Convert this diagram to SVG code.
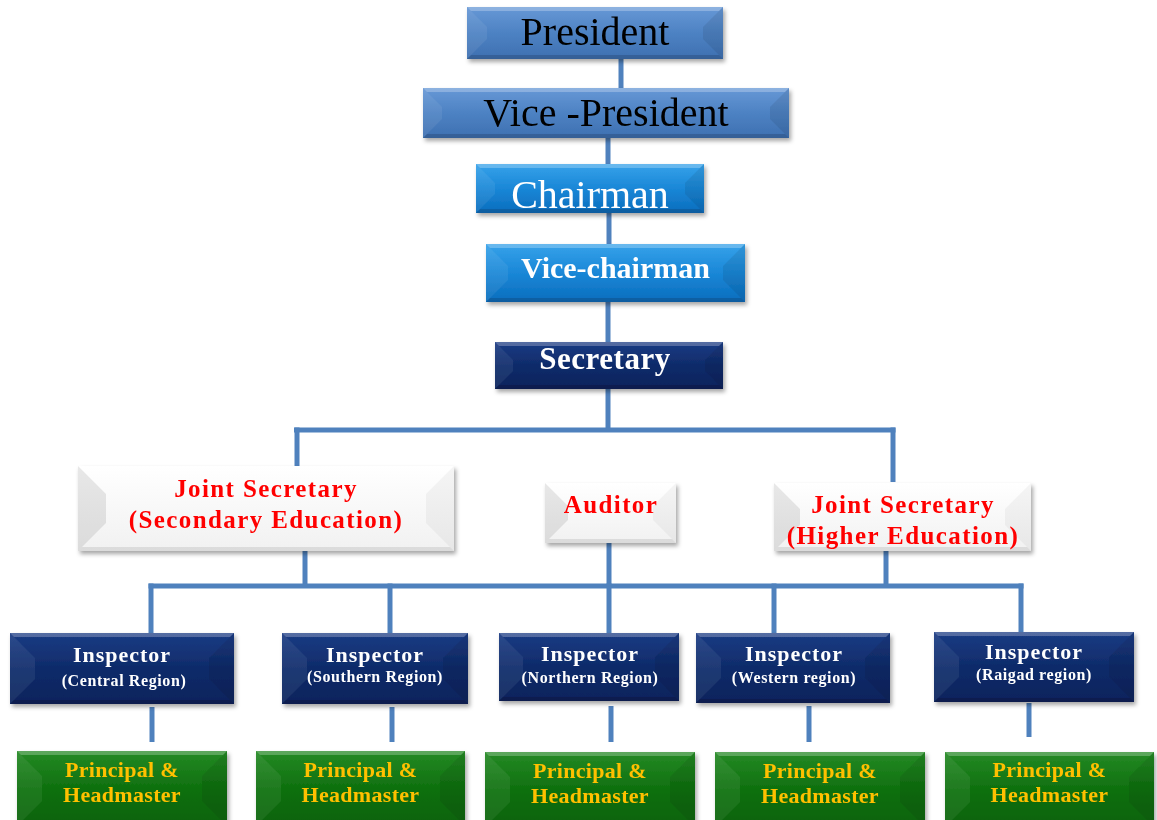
<svg xmlns="http://www.w3.org/2000/svg" width="1157" height="820" viewBox="0 0 1157 820">
<defs>
<linearGradient id="gSteel" x1="0" y1="0" x2="0" y2="1"><stop offset="0" stop-color="#6798d6"/><stop offset="0.5" stop-color="#4d82c3"/><stop offset="1" stop-color="#3e70b1"/></linearGradient>
<linearGradient id="gBright" x1="0" y1="0" x2="0" y2="1"><stop offset="0" stop-color="#36a2ea"/><stop offset="0.5" stop-color="#1a87d7"/><stop offset="1" stop-color="#0a6dbd"/></linearGradient>
<linearGradient id="gNavy" x1="0" y1="0" x2="0" y2="1"><stop offset="0" stop-color="#1b3c84"/><stop offset="0.5" stop-color="#0f2b6a"/><stop offset="1" stop-color="#0a235c"/></linearGradient>
<linearGradient id="gWhite" x1="0" y1="0" x2="0" y2="1"><stop offset="0" stop-color="#ffffff"/><stop offset="1" stop-color="#f1f1f1"/></linearGradient>
<linearGradient id="gGreen" x1="0" y1="0" x2="0" y2="1"><stop offset="0" stop-color="#258a25"/><stop offset="0.5" stop-color="#0f700f"/><stop offset="1" stop-color="#0a620a"/></linearGradient>
<filter id="sh" x="-10%" y="-20%" width="130%" height="150%"><feDropShadow dx="2" dy="3" stdDeviation="2" flood-color="#000" flood-opacity="0.35"/></filter>
</defs>
<style>
.conn line{stroke:#4f81bd;stroke-width:5;stroke-linecap:butt}
.box{filter:url(#sh)}
.lt{fill:#ffffff;fill-opacity:0.07}
.rt{fill:#000000;fill-opacity:0.08}
.tp{fill:#ffffff;fill-opacity:0.25}
.bt{fill:#000000;fill-opacity:0.15}
.wl{fill:#000000;fill-opacity:0.09}
.wr{fill:#000000;fill-opacity:0.04}
.wb{fill:#000000;fill-opacity:0.09}
.s{font-family:'Liberation Serif','Times New Roman',serif;text-anchor:middle}
.big{font-size:40px}
.b{font-weight:bold}
.red{fill:#ff0000;font-size:25px;letter-spacing:1.4px}
.ins{fill:#ffffff;font-size:22px;letter-spacing:1px}
.sub{fill:#ffffff;font-size:16px;letter-spacing:0.6px}
.pri{fill:#ffc000;font-size:22px;letter-spacing:0.3px}
</style>

<g id="connectors" class="conn">
<line x1="621" y1="57" x2="621" y2="90"/>
<line x1="608" y1="136" x2="608" y2="166"/>
<line x1="609" y1="211" x2="609" y2="246"/>
<line x1="608" y1="300" x2="608" y2="344"/>
<line x1="608" y1="387" x2="608" y2="432"/>
<line x1="294" y1="430" x2="895.5" y2="430"/>
<line x1="297" y1="427.5" x2="297" y2="468"/>
<line x1="893" y1="427.5" x2="893" y2="482"/>
<line x1="305" y1="549" x2="305" y2="588"/>
<line x1="609" y1="541" x2="609" y2="588"/>
<line x1="886" y1="549" x2="886" y2="588"/>
<line x1="148.5" y1="586" x2="1023.5" y2="586"/>
<line x1="151" y1="583.5" x2="151" y2="634"/>
<line x1="390" y1="583.5" x2="390" y2="634"/>
<line x1="609" y1="583.5" x2="609" y2="634"/>
<line x1="774" y1="583.5" x2="774" y2="634"/>
<line x1="1021" y1="583.5" x2="1021" y2="633"/>
<line x1="152" y1="707" x2="152" y2="742"/>
<line x1="392" y1="707" x2="392" y2="742"/>
<line x1="611" y1="706" x2="611" y2="742"/>
<line x1="809" y1="706" x2="809" y2="742"/>
<line x1="1029" y1="703" x2="1029" y2="737"/>
</g>

<g id="president" class="box">
<rect x="467" y="7" width="256" height="52" fill="url(#gSteel)"/>
<polygon class="lt" points="467,7 487,27 487,39 467,59"/>
<polygon class="rt" points="723,7 703,27 703,39 723,59"/>
<polygon class="tp" points="467,7 723,7 719,11 471,11"/>
<polygon class="bt" points="467,59 723,59 719,55 471,55"/>
<text class="s big" x="595" y="45" fill="#000">President</text>
</g>

<g id="vice-president" class="box">
<rect x="423" y="88" width="366" height="50" fill="url(#gSteel)"/>
<polygon class="lt" points="423,88 442,107 442,119 423,138"/>
<polygon class="rt" points="789,88 770,107 770,119 789,138"/>
<polygon class="tp" points="423,88 789,88 785,92 427,92"/>
<polygon class="bt" points="423,138 789,138 785,134 427,134"/>
<text class="s big" x="606" y="126" fill="#000">Vice -President</text>
</g>

<g id="chairman" class="box">
<rect x="476" y="164" width="228" height="49" fill="url(#gBright)"/>
<polygon class="lt" points="476,164 495,183 495,194 476,213"/>
<polygon class="rt" points="704,164 685,183 685,194 704,213"/>
<polygon class="tp" points="476,164 704,164 700,168 480,168"/>
<polygon class="bt" points="476,213 704,213 700,209 480,209"/>
<text class="s big" x="590" y="208" fill="#fff">Chairman</text>
</g>

<g id="vice-chairman" class="box">
<rect x="486" y="244" width="259" height="58" fill="url(#gBright)"/>
<polygon class="lt" points="486,244 508,266 508,280 486,302"/>
<polygon class="rt" points="745,244 723,266 723,280 745,302"/>
<polygon class="tp" points="486,244 745,244 741,248 490,248"/>
<polygon class="bt" points="486,302 745,302 741,298 490,298"/>
<text class="s b" x="615.5" y="278" fill="#fff" font-size="30">Vice-chairman</text>
</g>

<g id="secretary" class="box">
<rect x="495" y="342" width="228" height="47" fill="url(#gNavy)"/>
<polygon class="lt" points="495,342 513,360 513,371 495,389"/>
<polygon class="rt" points="723,342 705,360 705,371 723,389"/>
<polygon class="tp" points="495,342 723,342 719,346 499,346"/>
<polygon class="bt" points="495,389 723,389 719,385 499,385"/>
<text class="s b" x="605" y="369" fill="#fff" font-size="31" letter-spacing="0.5">Secretary</text>
</g>

<g id="js-secondary" class="box">
<rect x="78" y="466" width="376" height="85" fill="url(#gWhite)"/>
<polygon class="wl" points="78,466 106,494 106,523 78,551"/>
<polygon class="wr" points="454,466 426,494 426,523 454,551"/>
<polygon class="wb" points="78,551 454,551 450,547 82,547"/>
<text class="s b red" x="266" y="497">Joint Secretary</text>
<text class="s b red" x="266" y="528">(Secondary Education)</text>
</g>

<g id="auditor" class="box">
<rect x="545" y="483" width="131" height="60" fill="url(#gWhite)"/>
<polygon class="wl" points="545,483 568,506 568,520 545,543"/>
<polygon class="wr" points="676,483 653,506 653,520 676,543"/>
<polygon class="wb" points="545,543 676,543 672,539 549,539"/>
<text class="s b red" x="611" y="513">Auditor</text>
</g>

<g id="js-higher" class="box">
<rect x="774" y="483" width="257" height="68" fill="url(#gWhite)"/>
<polygon class="wl" points="774,483 800,509 800,525 774,551"/>
<polygon class="wr" points="1031,483 1005,509 1005,525 1031,551"/>
<polygon class="wb" points="774,551 1031,551 1027,547 778,547"/>
<text class="s b red" x="903" y="513">Joint Secretary</text>
<text class="s b red" x="903" y="544">(Higher Education)</text>
</g>

<g id="inspector-central" class="box">
<rect x="10" y="633" width="224" height="71" fill="url(#gNavy)"/>
<polygon class="lt" points="10,633 35,658 35,679 10,704"/>
<polygon class="rt" points="234,633 209,658 209,679 234,704"/>
<polygon class="tp" points="10,633 234,633 230,637 14,637"/>
<polygon class="bt" points="10,704 234,704 230,700 14,700"/>
<text class="s b ins" x="122" y="662">Inspector</text>
<text class="s b sub" x="124" y="686">(Central Region)</text>
</g>

<g id="inspector-southern" class="box">
<rect x="282" y="633" width="186" height="71" fill="url(#gNavy)"/>
<polygon class="lt" points="282,633 307,658 307,679 282,704"/>
<polygon class="rt" points="468,633 443,658 443,679 468,704"/>
<polygon class="tp" points="282,633 468,633 464,637 286,637"/>
<polygon class="bt" points="282,704 468,704 464,700 286,700"/>
<text class="s b ins" x="375" y="662">Inspector</text>
<text class="s b sub" x="375" y="682">(Southern Region)</text>
</g>

<g id="inspector-northern" class="box">
<rect x="499" y="633" width="180" height="68" fill="url(#gNavy)"/>
<polygon class="lt" points="499,633 523,657 523,677 499,701"/>
<polygon class="rt" points="679,633 655,657 655,677 679,701"/>
<polygon class="tp" points="499,633 679,633 675,637 503,637"/>
<polygon class="bt" points="499,701 679,701 675,697 503,697"/>
<text class="s b ins" x="590" y="661">Inspector</text>
<text class="s b sub" x="590" y="683">(Northern Region)</text>
</g>

<g id="inspector-western" class="box">
<rect x="696" y="633" width="194" height="70" fill="url(#gNavy)"/>
<polygon class="lt" points="696,633 721,658 721,678 696,703"/>
<polygon class="rt" points="890,633 865,658 865,678 890,703"/>
<polygon class="tp" points="696,633 890,633 886,637 700,637"/>
<polygon class="bt" points="696,703 890,703 886,699 700,699"/>
<text class="s b ins" x="794" y="661">Inspector</text>
<text class="s b sub" x="794" y="683">(Western region)</text>
</g>

<g id="inspector-raigad" class="box">
<rect x="934" y="632" width="200" height="70" fill="url(#gNavy)"/>
<polygon class="lt" points="934,632 959,657 959,677 934,702"/>
<polygon class="rt" points="1134,632 1109,657 1109,677 1134,702"/>
<polygon class="tp" points="934,632 1134,632 1130,636 938,636"/>
<polygon class="bt" points="934,702 1134,702 1130,698 938,698"/>
<text class="s b ins" x="1034" y="659">Inspector</text>
<text class="s b sub" x="1034" y="680">(Raigad region)</text>
</g>

<g id="principal-central" class="box">
<rect x="17" y="751" width="210" height="75" fill="url(#gGreen)"/>
<polygon class="lt" points="17,751 42,776 42,801 17,826"/>
<polygon class="rt" points="227,751 202,776 202,801 227,826"/>
<polygon class="tp" points="17,751 227,751 223,755 21,755"/>
<text class="s b pri" x="122" y="777">Principal &amp;</text>
<text class="s b pri" x="122" y="802">Headmaster</text>
</g>

<g id="principal-southern" class="box">
<rect x="256" y="751" width="209" height="75" fill="url(#gGreen)"/>
<polygon class="lt" points="256,751 281,776 281,801 256,826"/>
<polygon class="rt" points="465,751 440,776 440,801 465,826"/>
<polygon class="tp" points="256,751 465,751 461,755 260,755"/>
<text class="s b pri" x="360.5" y="777">Principal &amp;</text>
<text class="s b pri" x="360.5" y="802">Headmaster</text>
</g>

<g id="principal-northern" class="box">
<rect x="485" y="752" width="210" height="75" fill="url(#gGreen)"/>
<polygon class="lt" points="485,752 510,777 510,802 485,827"/>
<polygon class="rt" points="695,752 670,777 670,802 695,827"/>
<polygon class="tp" points="485,752 695,752 691,756 489,756"/>
<text class="s b pri" x="590" y="778">Principal &amp;</text>
<text class="s b pri" x="590" y="803">Headmaster</text>
</g>

<g id="principal-western" class="box">
<rect x="715" y="752" width="210" height="75" fill="url(#gGreen)"/>
<polygon class="lt" points="715,752 740,777 740,802 715,827"/>
<polygon class="rt" points="925,752 900,777 900,802 925,827"/>
<polygon class="tp" points="715,752 925,752 921,756 719,756"/>
<text class="s b pri" x="820" y="778">Principal &amp;</text>
<text class="s b pri" x="820" y="803">Headmaster</text>
</g>

<g id="principal-raigad" class="box">
<rect x="945" y="752" width="209" height="75" fill="url(#gGreen)"/>
<polygon class="lt" points="945,752 970,777 970,802 945,827"/>
<polygon class="rt" points="1154,752 1129,777 1129,802 1154,827"/>
<polygon class="tp" points="945,752 1154,752 1150,756 949,756"/>
<text class="s b pri" x="1049.5" y="777">Principal &amp;</text>
<text class="s b pri" x="1049.5" y="802">Headmaster</text>
</g>
</svg>
